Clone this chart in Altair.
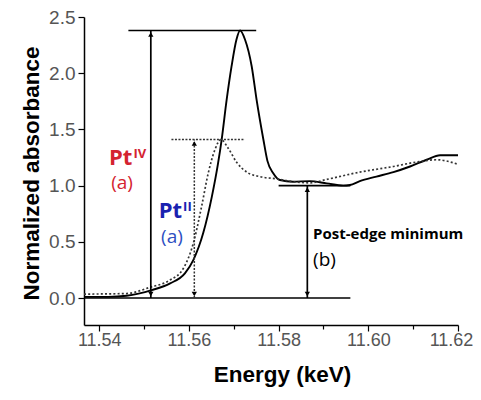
import altair as alt
import pandas as pd

# PtIV spectrum (solid)
energy_pt4 = [11.5366, 11.5420, 11.5461, 11.5517, 11.5558, 11.5591, 11.5610, 11.5632,
              11.5651, 11.5665, 11.5673, 11.5684, 11.5695, 11.5706, 11.5714, 11.5725,
              11.5740, 11.5751, 11.5766, 11.5775, 11.5788, 11.5803, 11.5832, 11.5870,
              11.5907, 11.5944, 11.5959, 11.5981, 11.6018, 11.6056, 11.6093, 11.6130,
              11.6160, 11.6200]
absorb_pt4 = [0.01, 0.01, 0.02, 0.07, 0.13, 0.22, 0.34, 0.58,
              0.90, 1.20, 1.41, 1.76, 2.06, 2.30, 2.38, 2.30,
              2.06, 1.76, 1.41, 1.22, 1.11, 1.05, 1.035, 1.04,
              1.02, 1.00, 1.005, 1.04, 1.08, 1.12, 1.17, 1.23,
              1.27, 1.27]

# PtII spectrum (dotted)
energy_pt2 = [11.5366, 11.5461, 11.5513, 11.5558, 11.5587, 11.5610, 11.5628, 11.5643,
              11.5658, 11.5671, 11.5688, 11.5706, 11.5729, 11.5758, 11.5795, 11.5832,
              11.5870, 11.5907, 11.5981, 11.6056, 11.6108, 11.6152, 11.6200]
absorb_pt2 = [0.035, 0.04, 0.095, 0.16, 0.26, 0.49, 0.81, 1.11,
              1.32, 1.41, 1.33, 1.21, 1.12, 1.08, 1.06, 1.035,
              1.025, 1.055, 1.12, 1.17, 1.21, 1.23, 1.19]

x_ticks = [11.54, 11.55, 11.56, 11.57, 11.58, 11.59, 11.60, 11.61, 11.62]
y_ticks = [0.0, 0.25, 0.5, 0.75, 1.0, 1.25, 1.5, 1.75, 2.0, 2.25, 2.5]

# annotation segments: x, x2, y, y2, style
seg_x = [11.5465, 11.5515, 11.5366, 11.5800, 11.5864, 11.5561, 11.5612]
seg_x2 = [11.5750, 11.5515, 11.5960, 11.5960, 11.5864, 11.5725, 11.5612]
seg_y = [2.38, 0.0, 0.0, 1.0, 0.0, 1.41, 0.0]
seg_y2 = [2.38, 2.38, 0.0, 1.0, 1.0, 1.41, 1.41]
seg_style = ["solid", "solid", "solid", "solid", "solid", "dotted", "dotted"]

# double-headed arrows: x, bottom, top
arrow_x = [11.5515, 11.5612, 11.5864]
arrow_lo = [0.0, 0.0, 0.0]
arrow_hi = [2.38, 1.41, 1.0]

df4 = pd.DataFrame({"E": energy_pt4, "A": absorb_pt4})
df2 = pd.DataFrame({"E": energy_pt2, "A": absorb_pt2})
seg = pd.DataFrame({"x": seg_x, "x2": seg_x2, "y": seg_y, "y2": seg_y2, "s": seg_style})
arr = pd.DataFrame({"x": arrow_x, "lo": arrow_lo, "hi": arrow_hi})

xscale = alt.Scale(domain=[11.5366, 11.62], nice=False, zero=False)
yscale = alt.Scale(domain=[-0.24, 2.5], nice=False, zero=False)

xmaj = "abs(datum.value*50 - round(datum.value*50)) < 0.001"
ymaj = "abs(datum.value*2 - round(datum.value*2)) < 0.001"

xaxis = alt.Axis(
    values=x_ticks, title="Energy (keV)", grid=False,
    labelExpr=f"{xmaj} ? format(datum.value, '.2f') : ''",
    tickSize={"condition": {"test": xmaj, "value": 6}, "value": 4},
    labelOffset={"condition": {"test": "datum.value > 11.615", "value": -7}, "value": 0},
    labelFontSize=18,
    labelPadding=0, labelFlush=False, labelOverlap=False,
    titleX=198, titleY=56, titleBaseline="alphabetic",
)
yaxis = alt.Axis(
    values=y_ticks, title="Normalized absorbance", grid=False,
    labelExpr=f"{ymaj} ? format(datum.value, '.1f') : ''",
    tickSize={"condition": {"test": ymaj, "value": 6}, "value": 4},
    labelFontSize=19,
    labelPadding=3, labelFlush=False, labelOverlap=False,
    titleX=-46, titleY=156, titleBaseline="alphabetic", titleAngle=270,
)

X = alt.X("E:Q", scale=xscale, axis=xaxis)
Y = alt.Y("A:Q", scale=yscale, axis=yaxis)

pt4 = alt.Chart(df4).mark_line(color="black", strokeWidth=1.9, interpolate="monotone").encode(x=X, y=Y)
pt2 = alt.Chart(df2).mark_line(color="#333333", strokeWidth=1.7, strokeDash=[2, 2.2],
                               interpolate="monotone").encode(x="E:Q", y="A:Q")

seg_solid = alt.Chart(seg).transform_filter("datum.s == 'solid'").mark_rule(
    color="black", strokeWidth=1.7).encode(x="x:Q", x2="x2", y="y:Q", y2="y2")
seg_dot = alt.Chart(seg).transform_filter("datum.s == 'dotted'").mark_rule(
    color="#333333", strokeWidth=1.5, strokeDash=[2, 1.5]).encode(x="x:Q", x2="x2", y="y:Q", y2="y2")

head_up = alt.Chart(arr).mark_point(shape="triangle-up", filled=True, color="black",
                                    size=28, opacity=1).encode(
    x="x:Q", y="hi:Q", yOffset=alt.value(4))
head_dn = alt.Chart(arr).mark_point(shape="triangle-down", filled=True, color="black",
                                    size=28, opacity=1).encode(
    x="x:Q", y="lo:Q", yOffset=alt.value(-4))

# labels
lab = pd.DataFrame({
    "x": [11.54740, 11.55848, 11.54508, 11.55621, 11.58769, 11.58769],
    "y": [1.183, 0.712, 0.970, 0.489, 0.525, 0.285],
    "t": ["Pt", "Pt", "(a)", "(a)", "Post-edge minimum", "(b)"],
    "k": ["pt4", "pt2", "a4", "a2", "post", "b"],
})
sup = pd.DataFrame({"x": [11.54740, 11.55848], "y": [1.183, 0.712], "t": ["IV", "II"],
                    "c": ["#d42330", "#1a22b0"]})

font = "Open Sans"
pt_big = alt.Chart(lab).transform_filter("datum.k == 'pt4' || datum.k == 'pt2'").mark_text(
    font=font, fontWeight="bold", fontSize=22, align="right", baseline="alphabetic").encode(
    x="x:Q", y="y:Q", text="t:N",
    color=alt.Color("k:N", scale=alt.Scale(domain=["pt4", "pt2"], range=["#d42330", "#1a22b0"]), legend=None))
pt_sup = alt.Chart(sup).mark_text(font=font, fontWeight="bold", fontSize=13, align="left",
                                  baseline="alphabetic", dx=1, dy=-7).encode(
    x="x:Q", y="y:Q", text="t:N", color=alt.Color("c:N", scale=None))
a_txt = alt.Chart(lab).transform_filter("datum.k == 'a4' || datum.k == 'a2'").mark_text(
    font=font, fontSize=19, align="center", baseline="alphabetic").encode(
    x="x:Q", y="y:Q", text="t:N",
    color=alt.Color("k:N", scale=alt.Scale(domain=["a4", "a2"], range=["#d42330", "#2d4fc2"]), legend=None))
post_txt = alt.Chart(lab).transform_filter("datum.k == 'post'").mark_text(
    font=font, fontWeight="bold", fontSize=15, align="left", baseline="alphabetic", color="black").encode(
    x="x:Q", y="y:Q", text="t:N")
b_txt = alt.Chart(lab).transform_filter("datum.k == 'b'").mark_text(
    font=font, fontSize=19, align="left", baseline="alphabetic", color="black").encode(
    x="x:Q", y="y:Q", text="t:N")

chart = alt.layer(
    pt4, pt2, seg_solid, seg_dot, head_up, head_dn, pt_big, pt_sup, a_txt, post_txt, b_txt
).resolve_scale(color="independent").properties(
    width=374, height=308,
    autosize=alt.AutoSizeParams(type="none"),
    padding={"left": 76, "top": 9, "right": 15, "bottom": 67},
    background="white",
).configure_view(stroke=None).configure_axis(
    domainColor="black", domainWidth=1.5, tickColor="black", tickWidth=1.2,
    labelColor="#555555", labelFont="Liberation Sans",
    titleFont="Liberation Sans", titleFontWeight="bold", titleFontSize=22.5, titleColor="black",
)

chart.save("out.html", embed_options={"renderer": "svg", "actions": False})
